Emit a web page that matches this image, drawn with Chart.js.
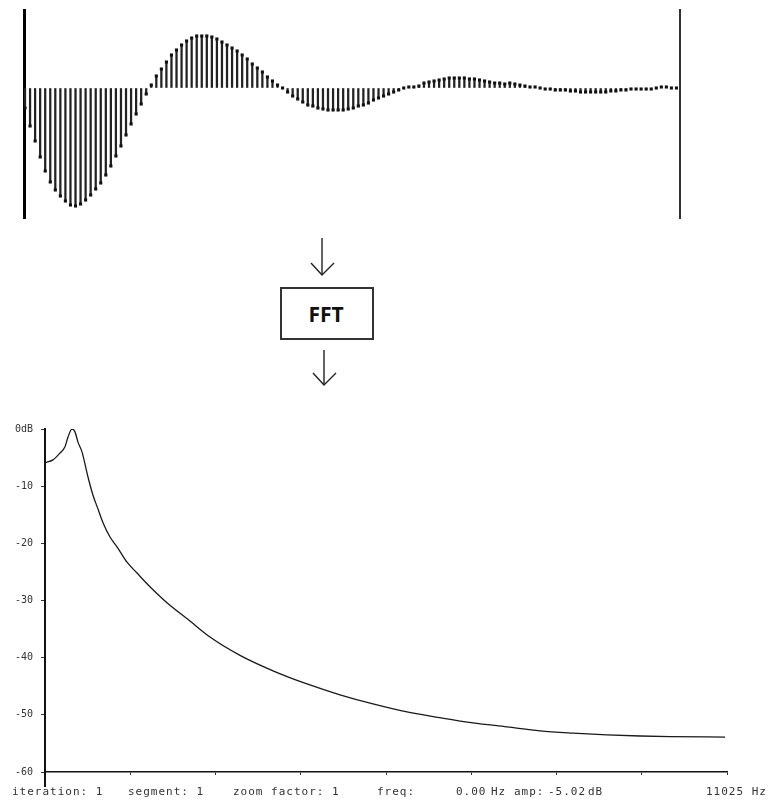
<!DOCTYPE html>
<html>
<head>
<meta charset="utf-8">
<script src="https://cdn.jsdelivr.net/npm/chart.js@4.4.1/dist/chart.umd.min.js"></script>
<style>
  body { margin: 0; background: #fff; width: 771px; height: 801px; position: relative; overflow: hidden; }
  .box { position: absolute; }
  #fft { left: 280px; top: 287px; width: 88px; height: 49px; border: 2px solid #333;
         font: bold 21px "Open Sans", "DejaVu Sans", sans-serif; color: #111;
         display: flex; align-items: center; justify-content: center; padding-right: 2px; }
  .status { position: absolute; top: 785px; font: 11px "DejaVu Sans Mono", monospace; color: #333;
            letter-spacing: 1px; white-space: nowrap; }
</style>
</head>
<body>

<div class="box" style="left:0;top:0;width:771px;height:230px"><canvas id="signal_canvas"></canvas></div>

<svg class="box" style="left:0;top:230px" width="771" height="170">
  <g stroke="#222" stroke-width="1.4" fill="none">
    <line x1="322" y1="8" x2="322" y2="45"/>
    <polyline points="311,33 322,45 334,33"/>
    <line x1="324" y1="120" x2="324" y2="155"/>
    <polyline points="313,143 324,155 336,143"/>
  </g>
</svg>
<div class="box" id="fft">FFT</div>

<div class="box" style="left:0;top:400px;width:771px;height:401px"><canvas id="spectrum_canvas"></canvas></div>

<span class="status" style="left:12px">iteration: 1</span>
<span class="status" style="left:128px">segment: 1</span>
<span class="status" style="left:233px">zoom factor: 1</span>
<span class="status" style="left:377px">freq:</span>
<span class="status" style="left:456px">0.00</span>
<span class="status" style="left:491px">Hz</span>
<span class="status" style="left:514px">amp:</span>
<span class="status" style="left:548px">-5.02</span>
<span class="status" style="left:588px">dB</span>
<span class="status" style="left:706px">11025 Hz</span>

<script>
// signal samples (top)
const signal_samples = [
  -20, -38, -53, -69, -83, -94, -102, -108, -113, -117,
  -118, -116, -112, -107, -101, -95, -87, -78, -68, -58,
  -47, -36, -26, -16, -6, 3, 12, 19, 26, 33,
  38, 43, 47, 50, 52, 52, 52, 51, 49, 46,
  43, 40, 37, 33, 29, 24, 20, 16, 11, 7,
  3, 0, -4, -8, -11, -14, -17, -18, -20, -21,
  -22, -22, -22, -22, -21, -20, -18, -17, -15, -12,
  -10, -8, -6, -4, -2, 0, 1, 1, 2, 5,
  6, 7, 8, 9, 10, 10, 10, 10, 9, 9,
  8, 7, 6, 5, 5, 4, 5, 4, 3, 2,
  1, 1, 0, -1, -1, -2, -2, -2, -3, -3,
  -4, -4, -4, -4, -4, -4, -3, -3, -2, -2,
  -1, -1, -1, -1, -1, 0, 1, 1, 0, 0
];

// spectrum (bottom)
const spectrum_freq = [0, 129, 243, 323, 372, 436, 485, 533, 598, 695, 776, 857, 938, 1051, 1164, 1326, 1487, 1697, 1972,
  2344, 2667, 3152, 3686, 4236, 4769, 5302, 5852, 6386, 6919, 7469, 8002, 8536, 9085, 9619, 10104, 10993];
const spectrum_db = [-5.9, -5.4, -4.2, -3.1, -1.4, 0, -0.5, -2.3, -4.0, -8.4, -11.6, -14.0, -16.4, -18.9, -20.6, -23.3, -25.2, -27.6, -30.4,
  -33.6, -36.4, -39.6, -42.3, -44.6, -46.5, -48.1, -49.5, -50.5, -51.4, -52.1, -52.8, -53.2, -53.5, -53.7, -53.8, -53.9];

const db_tick_labels = ["0dB", "-10", "-20", "-30", "-40", "-50", "-60"];
const freq_ticks = [0, 1378, 2756, 4134, 5513, 6891, 8269, 9647, 11025];

//signal

const signal_points = signal_samples.map((v, i) => ({x: i, y: v}));

const signal_ctx = document.getElementById('signal_canvas').getContext('2d');
const signal_chart = new Chart(signal_ctx, {
  type: 'bar',
  data: {
    datasets: [
      {
        type: 'line',
        data: signal_points,
        showLine: false,
        pointStyle: 'rect',
        pointRadius: 2.2,
        pointBorderWidth: 0,
        pointBackgroundColor: '#111',
      },
      {
        type: 'bar',
        data: signal_points,
        backgroundColor: '#222',
        barThickness: 1.6,
      },
    ],
  },
  options: {
    animation: false,
    responsive: true,
    maintainAspectRatio: false,
    layout: { padding: { top: 10, bottom: 12 } },
    plugins: { legend: { display: false }, tooltip: { enabled: false } },
    scales: {
      x: { type: 'linear', min: -0.2, max: 129.7, offset: false, display: false },
      y: {
        min: -130, max: 78,
        ticks: { display: false },
        grid: { drawOnChartArea: false, drawTicks: false },
        border: { color: '#000', width: 3 },
        afterFit(s) { s.width = 24; },
      },
      y2: {
        position: 'right',
        ticks: { display: false },
        grid: { drawOnChartArea: false, drawTicks: false },
        border: { color: '#333', width: 2 },
        afterFit(s) { s.width = 91; },
      },
    },
  },
});

//spectrum

const axis_tail = {
  id: 'axis_tail',
  afterDraw(c) {
    const a = c.chartArea, ctx = c.ctx;
    ctx.save();
    ctx.strokeStyle = '#111';
    ctx.lineWidth = 2;
    ctx.beginPath();
    ctx.moveTo(a.left, a.bottom);
    ctx.lineTo(a.left, a.bottom + 15);
    ctx.stroke();
    ctx.restore();
  }
};

const spectrum_ctx = document.getElementById('spectrum_canvas').getContext('2d');
const spectrum_chart = new Chart(spectrum_ctx, {
  type: 'line',
  data: {
    datasets: [
      {
        data: spectrum_freq.map((f, i) => ({x: f, y: spectrum_db[i]})),
        borderColor: '#1a1a1a',
        borderWidth: 1.3,
        pointRadius: 0,
        cubicInterpolationMode: 'monotone',
        fill: false,
      },
    ],
  },
  options: {
    animation: false,
    responsive: true,
    maintainAspectRatio: false,
    layout: { padding: { top: 29, right: 44, left: 0, bottom: 0 } },
    plugins: { legend: { display: false }, tooltip: { enabled: false } },
    scales: {
      x: {
        type: 'linear', min: 0, max: 11025,
        afterBuildTicks(s) { s.ticks = freq_ticks.map(v => ({value: v})); },
        ticks: { display: false },
        grid: { drawOnChartArea: false, tickLength: 3, color: '#333' },
        border: { color: '#111', width: 1.5 },
        afterFit(s) { s.height = 29; },
      },
      y: {
        min: -60, max: 0,
        ticks: {
          stepSize: 10,
          padding: 8,
          color: '#333',
          font: { family: 'DejaVu Sans Mono', size: 10 },
          callback: v => db_tick_labels[Math.round(-v / 10)],
        },
        grid: { drawOnChartArea: false, tickLength: 4, color: '#333' },
        border: { color: '#111', width: 2 },
        afterFit(s) { s.width = 45; },
      },
    },
  },
  plugins: [axis_tail],
});
</script>
</body>
</html>
